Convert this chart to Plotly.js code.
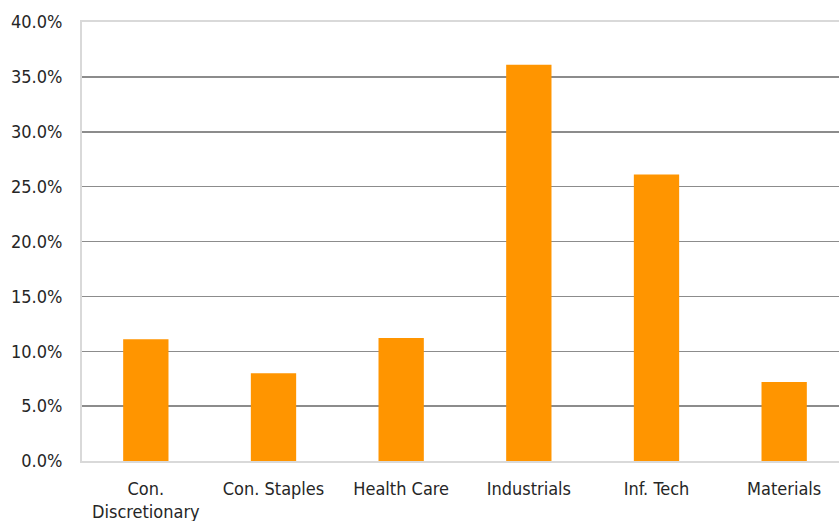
<!DOCTYPE html>
<html>
<head>
<meta charset="utf-8">
<script src="https://cdn.plot.ly/plotly-3.0.1.min.js"></script>
<style>
html,body{margin:0;padding:0;overflow:hidden;background:#fff;}
#chart{width:850px;height:521px;}
</style>
</head>
<body>
<div id="chart"></div>
<script>
const categories = ["Con.<br>Discretionary", "Con. Staples", "Health Care", "Industrials", "Inf. Tech", "Materials"];
const values = [11.1, 8.0, 11.2, 36.1, 26.1, 7.2];
const yTicks = [0, 5, 10, 15, 20, 25, 30, 35, 40];
const yTickLabels = ["0.0%", "5.0%", "10.0%", "15.0%", "20.0%", "25.0%", "30.0%", "35.0%", "40.0%"];

const fontFamily = '"DejaVu Sans Condensed", "DejaVu Sans", sans-serif';
const tf = {family: fontFamily, size: 18, color: '#262626', stretch: 'condensed'};

Plotly.newPlot('chart', [{
  type: 'bar',
  x: categories,
  y: values,
  width: 0.355,
  marker: {color: '#FF9500'},
  hoverinfo: 'none'
}], {
  width: 850,
  height: 521,
  margin: {l: 82, r: 2, t: 22, b: 60},
  paper_bgcolor: '#ffffff',
  plot_bgcolor: '#ffffff',
  font: tf,
  showlegend: false,
  xaxis: {
    type: 'category',
    range: [-0.5, 5.5],
    showline: true,
    linecolor: '#d9d9d9',
    linewidth: 2,
    mirror: true,
    showgrid: false,
    ticks: '',
    ticklabelstandoff: 10,
    tickfont: tf
  },
  yaxis: {
    range: [0, 40],
    tickvals: yTicks,
    ticktext: yTickLabels,
    showline: true,
    linecolor: '#d9d9d9',
    linewidth: 2,
    mirror: true,
    showgrid: true,
    gridcolor: '#8c8c8c',
    gridwidth: 1.5,
    zeroline: false,
    ticks: '',
    ticklabelstandoff: 14,
    tickfont: tf
  }
}, {displayModeBar: false, staticPlot: true});
</script>
</body>
</html>
